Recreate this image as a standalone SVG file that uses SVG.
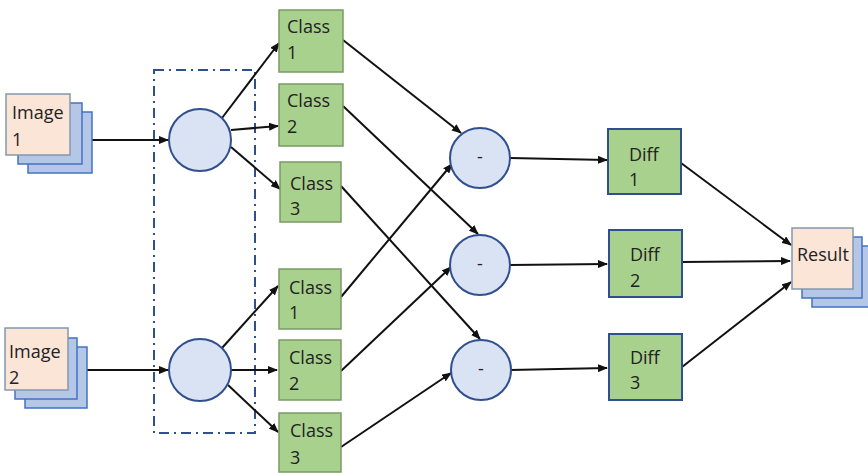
<svg xmlns="http://www.w3.org/2000/svg" width="868" height="473" viewBox="0 0 868 473">
  <defs>
    <marker id="arrow" markerWidth="10" markerHeight="8" refX="9" refY="4" orient="auto" markerUnits="userSpaceOnUse">
      <path d="M0,0 L10,4 L0,8 z" fill="#111"/>
    </marker>
    <style>
      text { font-family: "Open Sans", Lato, "Liberation Sans", sans-serif; font-size: 18px; fill: #222; }
      .stack-back { fill: #b4c7e7; stroke: #4472c4; stroke-width: 1.5; }
      .stack-front { fill: #fbe5d6; stroke: #8497b0; stroke-width: 1.5; }
      .node { fill: #dae3f3; stroke: #2f4f8f; stroke-width: 2; }
      .cls { fill: #a9d18e; stroke: #7a9a66; stroke-width: 1.5; }
      .diff { fill: #a9d18e; stroke: #2f4f8f; stroke-width: 2; }
      .edge { stroke: #111; stroke-width: 2; fill: none; marker-end: url(#arrow); }
      .group { fill: none; stroke: #2f4f8f; stroke-width: 2; stroke-dasharray: 10 5 2 5; }
    </style>
  </defs>

  <!-- dashed grouping frame around the two classifiers -->
  <rect class="group" x="154" y="70" width="101" height="363"/>

  <!-- connectors -->
  <g id="connectors">
    <line class="edge" x1="70" y1="140" x2="168" y2="140"/>
    <line class="edge" x1="68" y1="370" x2="168" y2="370"/>

    <line class="edge" x1="222" y1="118" x2="279" y2="43"/>
    <line class="edge" x1="231" y1="130" x2="278" y2="126"/>
    <line class="edge" x1="231" y1="147" x2="280" y2="189"/>

    <line class="edge" x1="222" y1="348" x2="278" y2="286"/>
    <line class="edge" x1="231" y1="370" x2="277" y2="370"/>
    <line class="edge" x1="228" y1="385" x2="278" y2="432"/>

    <line class="edge" x1="343" y1="40" x2="461" y2="133"/>
    <line class="edge" x1="343" y1="106" x2="478" y2="234"/>
    <line class="edge" x1="341" y1="186" x2="480" y2="339"/>

    <line class="edge" x1="341" y1="297" x2="452" y2="164"/>
    <line class="edge" x1="341" y1="371" x2="451" y2="267"/>
    <line class="edge" x1="341" y1="447" x2="451" y2="373"/>

    <line class="edge" x1="510" y1="158" x2="607" y2="160"/>
    <line class="edge" x1="510" y1="265" x2="607" y2="264"/>
    <line class="edge" x1="510" y1="370" x2="607" y2="368"/>

    <line class="edge" x1="681" y1="163" x2="791" y2="245"/>
    <line class="edge" x1="682" y1="262" x2="790" y2="261"/>
    <line class="edge" x1="682" y1="367" x2="791" y2="282"/>
  </g>

  <!-- input images -->
  <g id="image1">
    <rect class="stack-back" x="28" y="112" width="64" height="61"/>
    <rect class="stack-back" x="18" y="103" width="64" height="61"/>
    <rect class="stack-front" x="6" y="94" width="64" height="61"/>
    <text x="12" y="119">Image</text>
    <text x="12" y="146">1</text>
  </g>
  <g id="image2">
    <rect class="stack-back" x="25" y="347" width="62" height="61"/>
    <rect class="stack-back" x="15" y="338" width="62" height="61"/>
    <rect class="stack-front" x="5" y="328" width="63" height="62"/>
    <text x="9" y="358">Image</text>
    <text x="9" y="384">2</text>
  </g>

  <!-- classifiers -->
  <g id="classifier1"><circle class="node" cx="200" cy="140" r="31"/></g>
  <g id="classifier2"><circle class="node" cx="200" cy="370" r="31"/></g>

  <!-- class outputs, image 1 -->
  <g id="a-class1">
    <rect class="cls" x="279" y="10" width="64" height="62"/>
    <text x="287" y="33">Class</text>
    <text x="287" y="59">1</text>
  </g>
  <g id="a-class2">
    <rect class="cls" x="279" y="84" width="64" height="62"/>
    <text x="287" y="107">Class</text>
    <text x="287" y="133">2</text>
  </g>
  <g id="a-class3">
    <rect class="cls" x="280" y="162" width="61" height="60"/>
    <text x="290" y="190">Class</text>
    <text x="290" y="215">3</text>
  </g>

  <!-- class outputs, image 2 -->
  <g id="b-class1">
    <rect class="cls" x="279" y="269" width="62" height="60"/>
    <text x="289" y="294">Class</text>
    <text x="289" y="319">1</text>
  </g>
  <g id="b-class2">
    <rect class="cls" x="279" y="340" width="62" height="60"/>
    <text x="289" y="364">Class</text>
    <text x="289" y="390">2</text>
  </g>
  <g id="b-class3">
    <rect class="cls" x="279" y="413" width="62" height="59"/>
    <text x="290" y="437">Class</text>
    <text x="290" y="464">3</text>
  </g>

  <!-- subtraction nodes -->
  <g id="sub1"><circle class="node" cx="480" cy="158" r="30"/><text x="480" y="163" text-anchor="middle">-</text></g>
  <g id="sub2"><circle class="node" cx="480" cy="265" r="30"/><text x="480" y="270" text-anchor="middle">-</text></g>
  <g id="sub3"><circle class="node" cx="481" cy="370" r="30"/><text x="481" y="375" text-anchor="middle">-</text></g>

  <!-- differences -->
  <g id="diff1">
    <rect class="diff" x="608" y="129" width="73" height="65"/>
    <text x="629" y="161">Diff</text>
    <text x="629" y="186">1</text>
  </g>
  <g id="diff2">
    <rect class="diff" x="609" y="230" width="73" height="67"/>
    <text x="630" y="261">Diff</text>
    <text x="630" y="287">2</text>
  </g>
  <g id="diff3">
    <rect class="diff" x="609" y="334" width="73" height="66"/>
    <text x="630" y="364">Diff</text>
    <text x="630" y="389">3</text>
  </g>

  <!-- result stack -->
  <g id="result">
    <rect class="stack-back" x="812" y="246" width="60" height="61"/>
    <rect class="stack-back" x="802" y="237" width="60" height="61"/>
    <rect class="stack-front" x="792" y="228" width="61" height="61"/>
    <text x="797" y="261">Result</text>
  </g>
</svg>
